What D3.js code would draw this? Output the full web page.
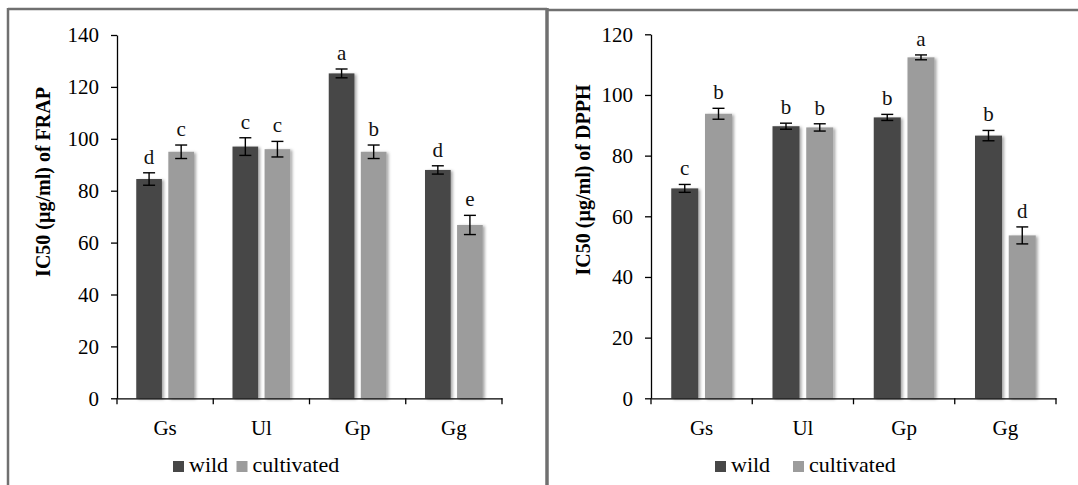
<!DOCTYPE html>
<html>
<head>
<meta charset="utf-8">
<script src="https://cdn.jsdelivr.net/npm/d3@7"></script>
<style>
  body { margin: 0; background: #fff; }
  svg { display: block; font-family: "Liberation Serif", "Times New Roman", serif; }
</style>
</head>
<body>
<div id="chart"></div>
<script>
// categories and series
const categories = ["Gs", "Ul", "Gp", "Gg"];
const seriesNames = ["wild", "cultivated"];
const seriesColors = ["#474747", "#9c9c9c"];

// FRAP panel (left)
const frapWild = [84.5, 97.0, 125.2, 88.0];
const frapWildErr = [2.4, 3.4, 1.7, 1.6];
const frapCult = [95.0, 96.0, 95.0, 66.8];
const frapCultErr = [2.6, 3.0, 2.6, 3.7];
const frapWildLetters = ["d", "c", "a", "d"];
const frapCultLetters = ["c", "c", "b", "e"];
const frapTicks = [0, 20, 40, 60, 80, 100, 120, 140];

// DPPH panel (right)
const dpphWild = [69.2, 89.7, 92.6, 86.6];
const dpphWildErr = [1.3, 1.0, 1.0, 1.7];
const dpphCult = [93.8, 89.3, 112.4, 53.7];
const dpphCultErr = [1.8, 1.2, 0.8, 2.8];
const dpphWildLetters = ["c", "b", "b", "b"];
const dpphCultLetters = ["b", "b", "a", "d"];
const dpphTicks = [0, 20, 40, 60, 80, 100, 120];

const W = 1078, H = 485;
const serif = "'Liberation Serif', 'Times New Roman', serif";

const svg = d3.select("#chart").append("svg")
    .attr("width", W)
    .attr("height", H);

// soft shadow like the office chart
const defs = svg.append("defs");
defs.append("filter")
    .attr("id", "shadow")
    .attr("x", "-20%").attr("y", "-5%").attr("width", "150%").attr("height", "115%")
    .append("feDropShadow")
    .attr("dx", 2).attr("dy", 1)
    .attr("stdDeviation", 1.6)
    .attr("flood-color", "#000")
    .attr("flood-opacity", 0.35);

// panel frames
const frameColor = "#707070";
svg.append("line").attr("x1", 8).attr("x2", 547).attr("y1", 9).attr("y2", 9)
    .attr("stroke", frameColor).attr("stroke-width", 2.5);
svg.append("line").attr("x1", 8).attr("x2", 8).attr("y1", 8).attr("y2", H)
    .attr("stroke", frameColor).attr("stroke-width", 2.5);
svg.append("line").attr("x1", 547).attr("x2", 547).attr("y1", 8).attr("y2", H)
    .attr("stroke", frameColor).attr("stroke-width", 3.5);
svg.append("line").attr("x1", 547).attr("x2", W).attr("y1", 10).attr("y2", 10)
    .attr("stroke", frameColor).attr("stroke-width", 2.5);

function drawPanel(cfg) {
    const g = svg.append("g");

    const x = d3.scaleBand()
        .domain(categories)
        .range([cfg.x0, cfg.x1])
        .padding(0);
    const bw = x.bandwidth();

    const x1 = d3.scaleBand()
        .domain(seriesNames)
        .range([0.2 * bw, 0.8 * bw])
        .paddingInner(0.2);

    const y = d3.scaleLinear()
        .domain([0, cfg.max])
        .range([cfg.y0, cfg.y1]);

    const rows = [];
    categories.forEach((c, i) => {
        rows.push({ cat: c, s: "wild", v: cfg.wild[i], e: cfg.wildErr[i], l: cfg.wildLetters[i], col: seriesColors[0] });
        rows.push({ cat: c, s: "cultivated", v: cfg.cult[i], e: cfg.cultErr[i], l: cfg.cultLetters[i], col: seriesColors[1] });
    });

    // bars
    g.selectAll(".bar")
        .data(rows)
        .enter()
        .append("rect")
        .attr("class", "bar")
        .attr("x", d => x(d.cat) + x1(d.s))
        .attr("width", x1.bandwidth())
        .attr("y", d => y(d.v))
        .attr("height", d => y(0) - y(d.v))
        .attr("fill", d => d.col)
        .attr("filter", "url(#shadow)");

    // error bars
    const cx = d => x(d.cat) + x1(d.s) + x1.bandwidth() / 2;
    const cap = 6;
    const eb = g.selectAll(".err").data(rows).enter().append("g")
        .attr("stroke", "#000").attr("stroke-width", 1.4);
    eb.append("line").attr("x1", cx).attr("x2", cx)
        .attr("y1", d => y(d.v + d.e)).attr("y2", d => y(d.v - d.e));
    eb.append("line").attr("x1", d => cx(d) - cap).attr("x2", d => cx(d) + cap)
        .attr("y1", d => y(d.v + d.e)).attr("y2", d => y(d.v + d.e));
    eb.append("line").attr("x1", d => cx(d) - cap).attr("x2", d => cx(d) + cap)
        .attr("y1", d => y(d.v - d.e)).attr("y2", d => y(d.v - d.e));

    // significance letters
    g.selectAll(".letter")
        .data(rows)
        .enter()
        .append("text")
        .attr("x", cx)
        .attr("y", d => y(d.v + d.e) - 9)
        .attr("text-anchor", "middle")
        .style("font-family", serif)
        .style("font-size", "21px")
        .attr("fill", "#111")
        .text(d => d.l);

    // y axis
    const yAxis = d3.axisLeft(y)
        .tickValues(cfg.ticks)
        .tickSize(6)
        .tickPadding(12)
        .tickSizeOuter(0);
    const ya = g.append("g")
        .attr("transform", "translate(" + cfg.x0 + ",0)")
        .call(yAxis)
        .attr("font-family", serif);
    ya.select(".domain").attr("stroke", "#000").attr("stroke-width", 1.3);
    ya.selectAll(".tick line").attr("stroke", "#000").attr("stroke-width", 1.3);
    ya.selectAll("text")
        .style("font-family", serif)
        .style("font-size", "21px")
        .attr("fill", "#000");

    // x axis, labels centred in the band
    const xAxis = d3.axisBottom(x).tickSize(0).tickPadding(22).tickSizeOuter(0);
    const xa = g.append("g")
        .attr("transform", "translate(0," + cfg.y0 + ")")
        .call(xAxis)
        .attr("font-family", serif);
    xa.select(".domain").attr("stroke", "#000").attr("stroke-width", 1.3);
    xa.selectAll("text")
        .style("font-family", serif)
        .style("font-size", "21px")
        .attr("fill", "#000");

    // ticks between categories
    const bounds = categories.map(c => x(c)).concat([x(categories[categories.length - 1]) + bw]);
    g.selectAll(".xtick")
        .data(bounds)
        .enter()
        .append("line")
        .attr("x1", d => d).attr("x2", d => d)
        .attr("y1", cfg.y0).attr("y2", cfg.y0 + 6)
        .attr("stroke", "#000").attr("stroke-width", 1.3);

    // axis title
    g.append("text")
        .attr("transform", "translate(" + cfg.titleX + "," + cfg.titleY + ") rotate(-90)")
        .attr("text-anchor", "middle")
        .attr("dy", "0.35em")
        .style("font-family", serif)
        .style("font-size", "20px")
        .style("font-weight", "bold")
        .text(cfg.title);

    // legend
    const lg = g.append("g");
    cfg.legend.forEach((px, i) => {
        lg.append("rect")
            .attr("x", px).attr("y", 461)
            .attr("width", 11).attr("height", 11)
            .attr("fill", seriesColors[i]);
        lg.append("text")
            .attr("x", px + 16).attr("y", 472)
            .style("font-family", serif)
            .style("font-size", "22px")
            .text(seriesNames[i]);
    });
}

drawPanel({
    x0: 117, x1: 502, y0: 398.3, y1: 35, max: 140,
    ticks: frapTicks,
    wild: frapWild, wildErr: frapWildErr, cult: frapCult, cultErr: frapCultErr,
    wildLetters: frapWildLetters, cultLetters: frapCultLetters,
    title: "IC50 (\u00b5g/ml)  of FRAP", titleX: 43, titleY: 182,
    legend: [173, 236.5]
});

drawPanel({
    x0: 651, x1: 1056, y0: 398.3, y1: 34.3, max: 120,
    ticks: dpphTicks,
    wild: dpphWild, wildErr: dpphWildErr, cult: dpphCult, cultErr: dpphCultErr,
    wildLetters: dpphWildLetters, cultLetters: dpphCultLetters,
    title: "IC50 (\u00b5g/ml)  of DPPH", titleX: 583, titleY: 180,
    legend: [715, 793]
});
</script>
</body>
</html>
